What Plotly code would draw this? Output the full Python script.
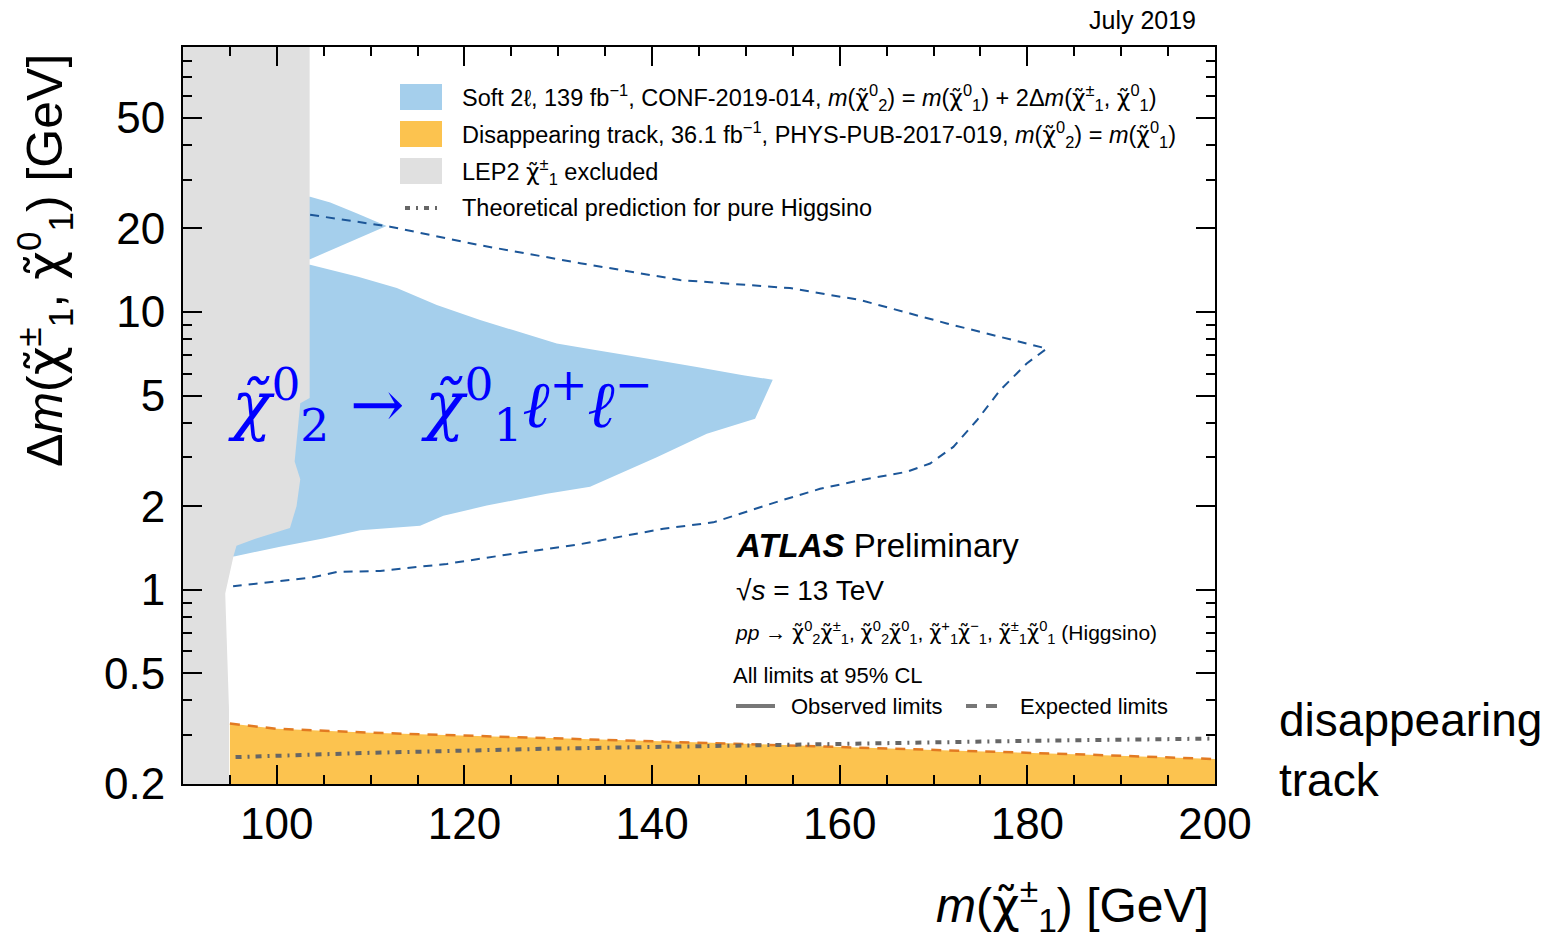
import plotly.graph_objects as go
import math

# ---------------- data ----------------
# LEP2 excluded region: right-hand boundary, top to bottom
lep_x = [103.5, 103.5, 102.5, 101.9, 102.5, 102.1, 101.4, 97.8, 95.7, 95.4, 94.5, 94.9, 94.9]
lep_y = [90.0, 4.9, 4.7, 2.9, 2.5, 2.0, 1.67, 1.53, 1.44, 1.33, 0.97, 0.375, 0.2]

# Soft 2l observed: upper sliver
soft_top_x = [100.0, 103.55, 105.7, 108.5, 111.7, 103.55, 100.0]
soft_top_y = [26.0, 26.0, 24.8, 22.7, 20.4, 15.5, 15.5]

# Soft 2l observed: main region (upper edge, tip, lower edge)
soft_main_x = [94.0, 103.55, 108.66, 112.79, 117.05, 121.67, 125.18, 129.84, 134.10, 139.43,
               144.76, 149.70, 152.86, 150.98, 145.83, 140.50, 133.39, 128.78, 122.38,
               117.76, 115.27, 108.88, 104.93, 100.35, 95.56, 94.0]
soft_main_y = [14.8, 14.8, 13.4, 12.2, 10.6, 9.36, 8.61, 7.71, 7.29, 6.81,
               6.34, 5.92, 5.71, 4.13, 3.65, 3.0, 2.35, 2.22, 2.01,
               1.85, 1.70, 1.64, 1.53, 1.43, 1.32, 1.30]

# Soft 2l expected (dashed)
soft_exp_x = [103.55, 110.26, 112.07, 121.67, 132.32, 142.97, 154.70, 162.16, 171.41, 182.06,
              179.93, 177.09, 174.60, 172.11, 169.63, 167.14, 162.16, 157.90, 153.63,
              146.53, 141.20, 132.32, 125.22, 118.12, 111.01, 106.39, 103.87, 95.34]
soft_exp_y = [22.4, 20.7, 20.3, 17.4, 15.0, 13.04, 12.2, 11.05, 9.1, 7.39,
              6.53, 5.23, 4.07, 3.27, 2.85, 2.66, 2.48, 2.31, 2.09,
              1.75, 1.66, 1.46, 1.35, 1.24, 1.17, 1.16, 1.11, 1.03]

# Disappearing track (expected limit, upper edge of the orange region)
dt_x = [95.0, 100.0, 110.0, 130.0, 150.0, 170.0, 185.0, 200.0]
dt_y = [0.330, 0.316, 0.306, 0.292, 0.279, 0.265, 0.256, 0.246]

# Theoretical prediction for pure Higgsino
th_x = [95.6, 110.0, 129.0, 150.0, 164.6, 180.0, 200.0]
th_y = [0.250, 0.259, 0.268, 0.276, 0.281, 0.286, 0.2915]

x_ticks = [100, 120, 140, 160, 180, 200]
y_ticks = [0.2, 0.5, 1, 2, 5, 10, 20, 50]
y_tick_text = ["0.2", "0.5", "1", "2", "5", "10", "20", "50"]
y_minor = [0.3, 0.4, 0.6, 0.7, 0.8, 0.9, 3, 4, 6, 7, 8, 9, 30, 40, 60, 70, 80, 90]

# ---------------- style ----------------
FONT = "Liberation Sans, Arial, Helvetica, sans-serif"
BLUE_FILL = "#a5cfec"
ORANGE_FILL = "#fcc34f"
GREY_FILL = "#e0e0e0"
BLUE_LINE = "#1c5698"
ORANGE_LINE = "#e27a22"
THEORY = "#666666"

W, H = 1565, 940
L, R, T, B = 183, 1215, 47, 784

def px(xp):
    return (xp - L) / (R - L)

def py(yp):
    return (B - yp) / (B - T)

chi = "<span style=\"font-family:'DejaVu Sans'\">χ̃</span>"

def chis(sup, sub):
    return chi + "<sup>" + sup + "</sup><sub>" + sub + "</sub>"

fig = go.Figure()

# fills
fig.add_trace(go.Scatter(x=soft_top_x, y=soft_top_y, fill="toself", mode="none",
                         fillcolor=BLUE_FILL, showlegend=False, hoverinfo="skip"))
fig.add_trace(go.Scatter(x=soft_main_x, y=soft_main_y, fill="toself", mode="none",
                         fillcolor=BLUE_FILL, showlegend=False, hoverinfo="skip"))
fig.add_trace(go.Scatter(x=dt_x + [dt_x[-1], dt_x[0]], y=dt_y + [0.15, 0.15], fill="toself",
                         mode="none", fillcolor=ORANGE_FILL, showlegend=False, hoverinfo="skip"))
fig.add_trace(go.Scatter(x=lep_x[:1] + lep_x + [94.9, 85, 85],
                         y=[100.0] + lep_y + [0.15, 0.15, 100.0], fill="toself",
                         mode="none", fillcolor=GREY_FILL, showlegend=False, hoverinfo="skip"))

# lines
fig.add_trace(go.Scatter(x=dt_x, y=dt_y, mode="lines",
                         line=dict(color=ORANGE_LINE, width=2.5, dash="10px,8px"),
                         showlegend=False, hoverinfo="skip"))
fig.add_trace(go.Scatter(x=th_x, y=th_y, mode="lines",
                         line=dict(color=THEORY, width=4, dash="6px,6px,2px,6px"),
                         showlegend=False, hoverinfo="skip"))
fig.add_trace(go.Scatter(x=soft_exp_x, y=soft_exp_y, mode="lines",
                         line=dict(color=BLUE_LINE, width=2, dash="9px,7px"),
                         showlegend=False, hoverinfo="skip"))

axis_common = dict(
    showline=True, linecolor="black", linewidth=2, mirror="ticks",
    ticks="inside", tickcolor="black", tickwidth=2, ticklen=19,
    showgrid=False, zeroline=False,
    tickfont=dict(family=FONT, size=44, color="black"),
)

fig.update_xaxes(range=[90, 200], tickmode="array", tickvals=x_ticks,
                 ticktext=[str(v) for v in x_ticks], ticklabelstandoff=0,
                 minor=dict(tickmode="linear", tick0=90, dtick=5, ticks="inside",
                            ticklen=9, tickcolor="black", tickwidth=1.5),
                 **axis_common)
fig.update_yaxes(type="log", range=[math.log10(0.2), math.log10(90)], tickmode="array",
                 tickvals=y_ticks, ticktext=y_tick_text, ticklabelstandoff=7,
                 minor=dict(tickmode="array", tickvals=y_minor, ticks="inside",
                            ticklen=9, tickcolor="black", tickwidth=1.5),
                 **axis_common)

shapes = []
annotations = []

# custom legend
legend_rows = [
    ("box", BLUE_FILL, 97,
     "Soft 2ℓ, 139 fb<sup>−1</sup>, CONF-2019-014, <i>m</i>(" + chis("0", "2") + ") = <i>m</i>("
     + chis("0", "1") + ") + 2Δ<i>m</i>(" + chis("±", "1") + ", " + chis("0", "1") + ")"),
    ("box", ORANGE_FILL, 134,
     "Disappearing track, 36.1 fb<sup>−1</sup>, PHYS-PUB-2017-019, <i>m</i>(" + chis("0", "2")
     + ") = <i>m</i>(" + chis("0", "1") + ")"),
    ("box", GREY_FILL, 171, "LEP2 " + chis("±", "1") + " excluded"),
    ("line", THEORY, 208, "Theoretical prediction for pure Higgsino"),
]
for kind, col, yc, txt in legend_rows:
    if kind == "box":
        shapes.append(dict(type="rect", xref="paper", yref="paper",
                           x0=px(400), x1=px(442), y0=py(yc + 13), y1=py(yc - 13),
                           fillcolor=col, line=dict(width=0)))
    else:
        shapes.append(dict(type="line", xref="paper", yref="paper",
                           x0=px(405), x1=px(438), y0=py(yc), y1=py(yc),
                           line=dict(color=col, width=4, dash="5px,6px,2px,6px")))
    annotations.append(dict(xref="paper", yref="paper", x=px(460), y=py(yc),
                            xanchor="left", yanchor="middle", showarrow=False, text=txt,
                            font=dict(family=FONT, size=23.5, color="black")))

# ATLAS block
annotations += [
    dict(xref="paper", yref="paper", x=px(734), y=py(545), xanchor="left", yanchor="middle",
         showarrow=False, text="<b><i>ATLAS</i></b> Preliminary",
         font=dict(family=FONT, size=33, color="black")),
    dict(xref="paper", yref="paper", x=px(734), y=py(590), xanchor="left", yanchor="middle",
         showarrow=False, text="√<i>s</i> = 13 TeV",
         font=dict(family=FONT, size=28, color="black")),
    dict(xref="paper", yref="paper", x=px(733), y=py(632), xanchor="left", yanchor="middle",
         showarrow=False,
         text="<i>pp</i> → " + chis("0", "2") + chis("±", "1") + ", "
              + chis("0", "2") + chis("0", "1") + ", "
              + chis("+", "1") + chis("−", "1") + ", "
              + chis("±", "1") + chis("0", "1") + " (Higgsino)",
         font=dict(family=FONT, size=21, color="black")),
    dict(xref="paper", yref="paper", x=px(731), y=py(675), xanchor="left", yanchor="middle",
         showarrow=False, text="All limits at 95% CL",
         font=dict(family=FONT, size=22, color="black")),
    dict(xref="paper", yref="paper", x=px(789), y=py(706), xanchor="left", yanchor="middle",
         showarrow=False, text="Observed limits",
         font=dict(family=FONT, size=22, color="black")),
    dict(xref="paper", yref="paper", x=px(1018), y=py(706), xanchor="left", yanchor="middle",
         showarrow=False, text="Expected limits",
         font=dict(family=FONT, size=22, color="black")),
]
shapes.append(dict(type="line", xref="paper", yref="paper", x0=px(736), x1=px(775),
                   y0=py(706), y1=py(706), line=dict(color="#777777", width=4)))
shapes.append(dict(type="line", xref="paper", yref="paper", x0=px(966), x1=px(999),
                   y0=py(706), y1=py(706), line=dict(color="#777777", width=4, dash="11px,9px")))

# process label
annotations.append(dict(xref="paper", yref="paper", x=px(226), y=py(405), xanchor="left",
                        yanchor="middle", showarrow=False,
                        text="<i>χ̃</i><sup>0</sup><sub>2</sub> → <i>χ̃</i><sup>0</sup><sub>1</sub>"
                             "<i>ℓ</i><sup>+</sup><i>ℓ</i><sup>−</sup>",
                        font=dict(family="DejaVu Serif, serif", size=65, color="#0000ff")))

# outside texts
annotations += [
    dict(xref="paper", yref="paper", x=px(1277), y=py(750), xanchor="left", yanchor="middle",
         align="left", showarrow=False, text="disappearing<br>track",
         font=dict(family=FONT, size=46, color="black")),
    dict(xref="paper", yref="paper", x=px(1198), y=py(20), xanchor="right", yanchor="middle",
         showarrow=False, text="July 2019", font=dict(family=FONT, size=25, color="black")),
    dict(xref="paper", yref="paper", x=px(1211), y=py(905), xanchor="right", yanchor="middle",
         showarrow=False,
         text="<i>m</i>(" + chis("±", "1") + ") [GeV]",
         font=dict(family=FONT, size=48, color="black")),
    dict(xref="paper", yref="paper", x=px(44), y=py(261), xanchor="center", yanchor="middle",
         textangle=-90, showarrow=False,
         text="Δ<i>m</i>(" + chis("±", "1") + ", " + chis("0", "1") + ") [GeV]",
         font=dict(family=FONT, size=50, color="black")),
]

fig.update_layout(
    width=W, height=H,
    margin=dict(l=L, r=W - R, t=T, b=H - B),
    paper_bgcolor="white", plot_bgcolor="white",
    showlegend=False,
    shapes=shapes, annotations=annotations,
    font=dict(family=FONT, color="black"),
)

fig.write_html("out.html")
